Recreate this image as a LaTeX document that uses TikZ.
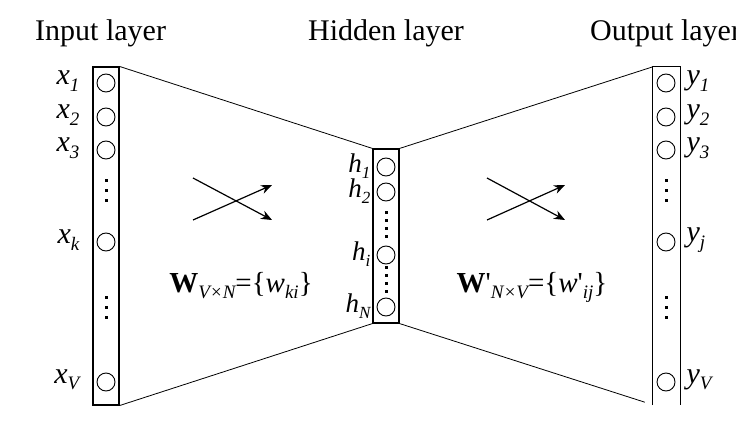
\documentclass[tikz,border=0pt]{standalone}
\usepackage{fontspec}
\setmainfont{Liberation Serif}
\usetikzlibrary{arrows.meta}
\newcommand\sbs[1]{\raisebox{-6.5pt}{\fontsize{19}{19}\selectfont\itshape #1}}
\newcommand\sbh[1]{\raisebox{-5.5pt}{\fontsize{17}{17}\selectfont\itshape #1}}
\newcommand\lbl[2]{\textit{#1}\sbs{#2}}
\newcommand\prm{\textquotesingle}
\begin{document}
\begin{tikzpicture}[x=1pt,y=-1pt,
  layerbox/.style={draw,line width=1.1pt,minimum width=26pt,inner sep=0pt},
  unit/.style={draw,circle,line width=0.9pt,minimum size=18pt,inner sep=0pt},
  title/.style={font=\fontsize{30}{32}\selectfont,inner sep=0pt},
  lab/.style={font=\fontsize{30}{32}\selectfont,inner sep=0pt},
  hlab/.style={font=\fontsize{27}{28}\selectfont,inner sep=0pt},
  conn/.style={line width=0.8pt},
  cross/.style={line width=1.2pt,-{Stealth[length=11pt,width=9pt]}},
  formula/.style={font=\fontsize{29}{31}\selectfont,inner sep=0pt}]
\useasboundingbox (0,0) rectangle (736,436);
\fill[white] (0,0) rectangle (736,436);
% titles
\node[title,anchor=base west] (tin) at (35,41) {Input layer};
\node[title,anchor=base] (thid) at (386,41) {Hidden layer};
\node[title,anchor=base west] (tout) at (590,41) {Output layer};
% boxes
\node[layerbox,minimum height=338pt] (inbox) at (106,236) {};
\node[layerbox,minimum height=174pt] (hidbox) at (386,236) {};
\node[minimum width=27pt,minimum height=338pt,inner sep=0pt] (outbox) at (666.5,236) {};
\draw[line width=1.1pt] (outbox.south west) -- (outbox.north west) -- (outbox.north east) -- (outbox.south east);
% input units
\foreach \n/\y in {1/83,2/117,3/150,k/242,V/382}
  \node[unit] (x\n) at (106,\y) {};
\foreach \n in {1,2,3,k,V}
  \node[lab,anchor=east] (lx\n) at ([xshift=-17pt,yshift=2pt]x\n.west) {\lbl{x}{\n}};
% hidden units
\foreach \n/\y in {1/167,2/192,i/255,N/307}
  \node[unit] (h\n) at (386,\y) {};
\foreach \n in {1,2,i,N}
  \node[hlab,anchor=east] (lh\n) at ([xshift=-6pt,yshift=1pt]h\n.west) {\textit{h}\sbh{\n}};
% output units
\foreach \n/\y in {1/83,2/117,3/150,j/242,V/382}
  \node[unit] (y\n) at (666,\y) {};
\foreach \n in {1,2,3,j,V}
  \node[lab,anchor=west] (ly\n) at ([xshift=11pt,yshift=2pt]y\n.east) {\lbl{y}{\n}};
% dots
\foreach \y in {180,190,200,297,307,317}{
  \fill (104.5,\y-1.5) rectangle ++(3.5,3.5);
  \fill (664.5,\y-1.5) rectangle ++(3.5,3.5);}
\foreach \y in {212,220,228,236,267,275,283,291}
  \fill (384.5,\y-1.5) rectangle ++(3.5,3.5);
% connectors
\draw[conn] (inbox.north east) -- (hidbox.north west);
\draw[conn] (inbox.south east) -- (hidbox.south west);
\draw[conn] (hidbox.north east) -- (outbox.north west);
\draw[conn] (hidbox.south east) -- ([xshift=-8pt,yshift=3pt]outbox.south west);
% crossing arrows
\coordinate (a1) at (193,178); \coordinate (a2) at (272,220);
\coordinate (a3) at (193,220); \coordinate (a4) at (272,185);
\draw[cross] (a1) -- (a2);
\draw[cross] (a3) -- (a4);
\coordinate (b1) at (487,178); \coordinate (b2) at (565,220);
\coordinate (b3) at (487,220); \coordinate (b4) at (565,185);
\draw[cross] (b1) -- (b2);
\draw[cross] (b3) -- (b4);
% formulas
\node[formula,anchor=base] (f1) at (241,292) {\textbf{W}\sbs{V×N}=\{\textit{w}\sbs{ki}\}};
\node[formula,anchor=base] (f2) at (532,292) {\textbf{W}\prm\sbs{N×V}=\{\textit{w}\prm\sbs{ij}\}};
\end{tikzpicture}
\end{document}
